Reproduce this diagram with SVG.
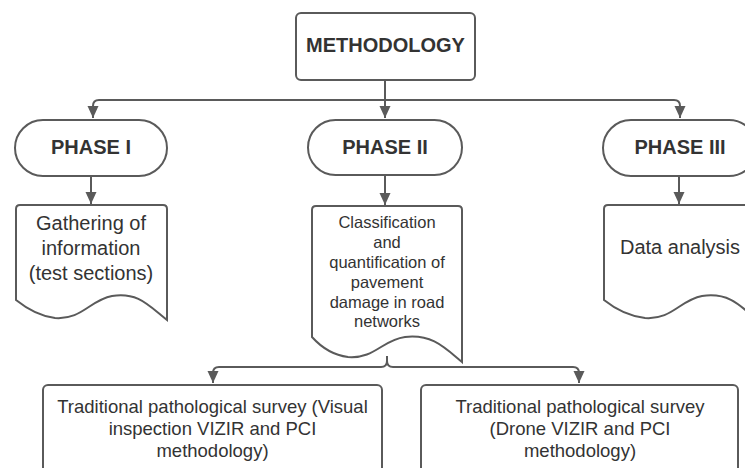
<svg xmlns="http://www.w3.org/2000/svg" width="745" height="468" viewBox="0 0 745 468">
<defs>
<style>
.shape{fill:#ffffff;stroke:#5a5a5a;stroke-width:2}
.conn{fill:none;stroke:#5a5a5a;stroke-width:2}
.t{font-family:"Liberation Sans",Arial,sans-serif;fill:#333333;text-anchor:middle}
.b{font-weight:bold;font-size:20px}
.r20{font-size:20px}
.r16{font-size:16.5px}
.r18{font-size:18.5px}
</style>
<marker id="arr" markerUnits="userSpaceOnUse" markerWidth="12" markerHeight="12" viewBox="0 0 12 12" refX="12" refY="6" orient="auto">
<path d="M0,0.5 L12,6 L0,11.5 z" fill="#5a5a5a"/>
</marker>
</defs>
<rect width="745" height="468" fill="#ffffff"/>
<g id="connectors">
<path class="conn" d="M385,80 V100"/>
<path class="conn" d="M93,118 V106 q0,-6 6,-6 H674 q6,0 6,6 V118" marker-end="url(#arr)"/>
<path class="conn" d="M93,106 V118" marker-end="url(#arr)"/>
<path class="conn" d="M385,100 V118" marker-end="url(#arr)"/>
<path class="conn" d="M91,176 V204" marker-end="url(#arr)"/>
<path class="conn" d="M385,175 V205" marker-end="url(#arr)"/>
<path class="conn" d="M679,176 V204" marker-end="url(#arr)"/>
<path class="conn" d="M387,356 V361 q0,6 -6,6 H219 q-6,0 -6,6 V383" marker-end="url(#arr)"/>
<path class="conn" d="M387,361 q0,6 6,6 H573 q6,0 6,6 V383" marker-end="url(#arr)"/>
</g>
<g id="methodology">
<rect class="shape" x="296" y="13" width="179" height="67" rx="5"/>
<text class="t b" x="385.5" y="52">METHODOLOGY</text>
</g>
<g id="phase1">
<rect class="shape" x="15" y="120" width="152" height="56" rx="28"/>
<text class="t b" x="91" y="154">PHASE I</text>
</g>
<g id="phase2">
<rect class="shape" x="308" y="120" width="154" height="55" rx="27.5"/>
<text class="t b" x="385" y="154">PHASE II</text>
</g>
<g id="phase3">
<rect class="shape" x="603" y="120" width="154" height="56" rx="28"/>
<text class="t b" x="680" y="154">PHASE III</text>
</g>
<g id="doc1">
<path class="shape" d="M16,209 q0,-4 4,-4 H163 q4,0 4,4 V320 C148,305 138,292 112,296 C90,300 82,320 55,318 C38,316 26,308 16,300 Z"/>
<text class="t r20" x="91" y="230">Gathering of</text>
<text class="t r20" x="91" y="255">information</text>
<text class="t r20" x="91" y="280">(test sections)</text>
</g>
<g id="doc2">
<path class="shape" d="M312,210 q0,-4 4,-4 H458 q4,0 4,4 V362 C444,347 432,334 405,337 C382,340 375,359 348,357 C332,355 321,347 312,337 Z"/>
<text class="t r16" x="387" y="228">Classification</text>
<text class="t r16" x="387" y="248">and</text>
<text class="t r16" x="387" y="268">quantification of</text>
<text class="t r16" x="387" y="288">pavement</text>
<text class="t r16" x="387" y="308">damage in road</text>
<text class="t r16" x="387" y="327">networks</text>
</g>
<g id="doc3">
<path class="shape" d="M604,209 q0,-4 4,-4 H753 q4,0 4,4 V320 C740,305 728,292 702,296 C680,300 672,320 645,318 C628,316 614,308 604,300 Z"/>
<text class="t r20" x="680" y="254">Data analysis</text>
</g>
<g id="survey-visual">
<rect class="shape" x="43" y="385" width="339" height="120" rx="5"/>
<text class="t r18" x="212.5" y="413">Traditional pathological survey (Visual</text>
<text class="t r18" x="212.5" y="435">inspection VIZIR and PCI</text>
<text class="t r18" x="212.5" y="457">methodology)</text>
</g>
<g id="survey-drone">
<rect class="shape" x="421" y="385" width="317" height="120" rx="5"/>
<text class="t r18" x="580" y="413">Traditional pathological survey</text>
<text class="t r18" x="580" y="435">(Drone VIZIR and PCI</text>
<text class="t r18" x="580" y="457">methodology)</text>
</g>
</svg>
